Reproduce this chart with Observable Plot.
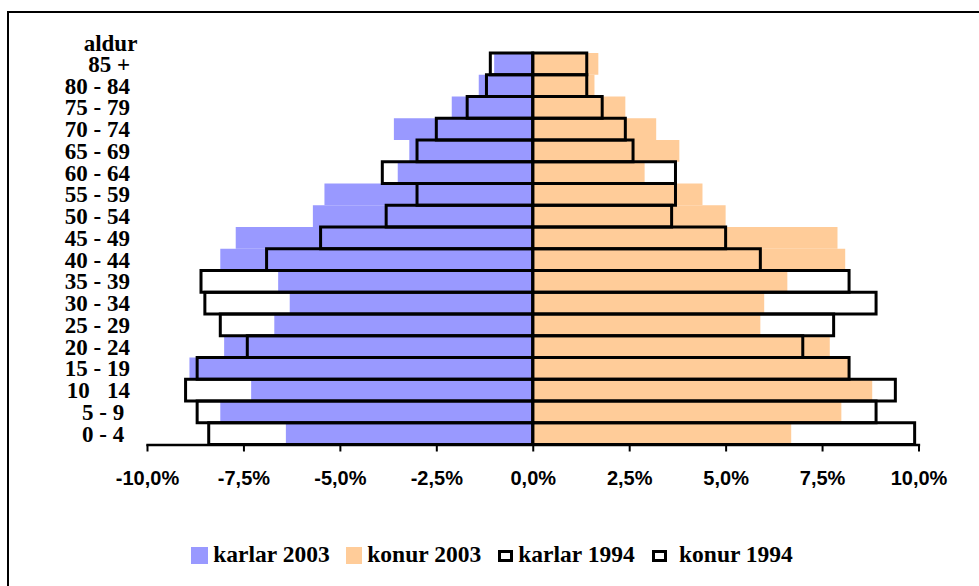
<!DOCTYPE html>
<html>
<head>
<meta charset="utf-8">
<script src="https://cdn.jsdelivr.net/npm/d3@7"></script>
<script src="https://cdn.jsdelivr.net/npm/@observablehq/plot@0.6"></script>
<style>
  html, body { margin: 0; padding: 0; background: #fff; overflow: hidden; width: 979px; height: 586px; }
  #frame { position: absolute; left: 7px; top: 11px; width: 2000px; height: 2000px; border: 2.5px solid #000; }
  #chart { position: absolute; left: 0; top: 0; }
  #chart svg text { white-space: pre; }
  .lg { position: absolute; font-family: "Liberation Serif", "Times New Roman", serif; font-weight: bold; font-size: 23.5px; line-height: 1; white-space: pre; }
  .sw { position: absolute; box-sizing: border-box; }
</style>
</head>
<body>
<div id="frame"></div>
<div id="chart"></div>
<div id="legend"></div>
<script>
const ages = ["85 +","80 - 84","75 - 79","70 - 74","65 - 69","60 - 64","55 - 59","50 - 54","45 - 49","40 - 44","35 - 39","30 - 34","25 - 29","20 - 24","15 - 19","10   14","5 - 9 ","0 - 4 "];
const karlar2003 = [-1.0,-1.4,-2.1,-3.6,-3.2,-3.5,-5.4,-5.7,-7.7,-8.1,-6.6,-6.3,-6.7,-8.0,-8.9,-7.3,-8.1,-6.4];
const konur2003  = [1.7,1.6,2.4,3.2,3.8,2.9,4.4,5.0,7.9,8.1,6.6,6.0,5.9,7.7,8.2,8.8,8.0,6.7];
const karlar1994 = [-1.1,-1.2,-1.7,-2.5,-3.0,-3.9,-3.0,-3.8,-5.5,-6.9,-8.6,-8.5,-8.1,-7.4,-8.7,-9.0,-8.7,-8.4];
const konur1994  = [1.4,1.4,1.8,2.4,2.6,3.7,3.7,3.6,5.0,5.9,8.2,8.9,7.8,7.0,8.2,9.4,8.9,9.9];
const xTicks = [-10,-7.5,-5,-2.5,0,2.5,5,7.5,10];
const seriesNames = ["karlar 2003","konur 2003","karlar 1994","konur 1994"];
const axisTitle = "aldur";

const rows = ages.map((a, i) => ({age: a, m03: karlar2003[i], f03: konur2003[i], m94: karlar1994[i], f94: konur1994[i]}));
const fmt = d => d.toFixed(1).replace(".", ",") + "%";
const serif = "'Liberation Serif', 'Times New Roman', serif";
const sans = "'Liberation Sans', Arial, sans-serif";

const chart = Plot.plot({
  width: 979, height: 586,
  marginLeft: 147, marginRight: 60.5, marginTop: 53, marginBottom: 141.5,
  x: {domain: [-10, 10]},
  y: {domain: ages, padding: 0, round: false},
  style: {background: "transparent", overflow: "visible", color: "#000"},
  marks: [
    Plot.barX(rows, {y: "age", x1: 0, x2: "m03", fill: "#9999FF"}),
    Plot.barX(rows, {y: "age", x1: 0, x2: "f03", fill: "#FFCC99"}),
    Plot.barX(rows, {y: "age", x1: "m94", x2: 0, fill: "none", stroke: "#000", strokeWidth: 3}),
    Plot.barX(rows, {y: "age", x1: 0, x2: "f94", fill: "none", stroke: "#000", strokeWidth: 3}),
    Plot.frame({anchor: "bottom", stroke: "#000", strokeWidth: 2.3}),
    Plot.axisX({ticks: xTicks, tickSize: 7, tickPadding: 19, tickFormat: fmt, strokeWidth: 2,
      fontSize: 20, fontWeight: "bold", fontFamily: sans, label: null}),
    Plot.axisY({tickSize: 0, tickPadding: 17.5, fontSize: 23, fontWeight: "bold", fontFamily: serif, label: null}),
    Plot.text([axisTitle], {text: d => d, frameAnchor: "top-left", dx: -37, dy: -3, lineAnchor: "bottom",
      textAnchor: "middle", fontSize: 23, fontWeight: "bold", fontFamily: serif})
  ]
});
document.getElementById("chart").appendChild(chart);

// legend
const lg = document.getElementById("legend");
const items = [
  {sw: {left: 191, top: 547.3, w: 16.7, h: 16.7, style: "background:#9999FF"}, tx: 213.3},
  {sw: {left: 345.7, top: 547.3, w: 16.7, h: 16.7, style: "background:#FFCC99"}, tx: 367.3},
  {sw: {left: 498.3, top: 549.5, w: 15, h: 12.5, style: "border:3px solid #000"}, tx: 518.3},
  {sw: {left: 652.3, top: 549.5, w: 14.5, h: 12.5, style: "border:3px solid #000"}, tx: 679}
];
items.forEach((it, i) => {
  const s = document.createElement("div");
  s.className = "sw";
  s.style.cssText = `left:${it.sw.left}px;top:${it.sw.top}px;width:${it.sw.w}px;height:${it.sw.h}px;${it.sw.style}`;
  lg.appendChild(s);
  const t = document.createElement("div");
  t.className = "lg";
  t.style.left = it.tx + "px";
  t.style.top = "543px";
  t.textContent = seriesNames[i];
  lg.appendChild(t);
});
</script>
</body>
</html>
